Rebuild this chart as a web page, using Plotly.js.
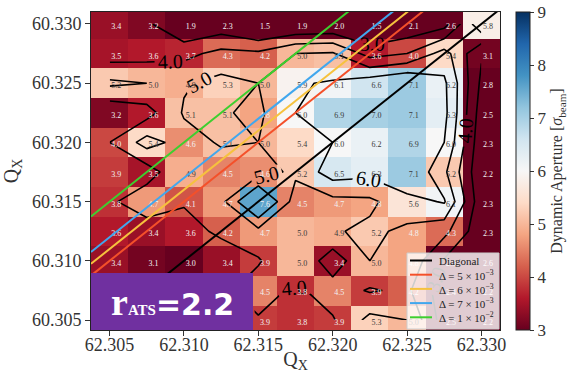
<!DOCTYPE html>
<html>
<head>
<meta charset="utf-8">
<script src="https://cdn.plot.ly/plotly-3.0.1.min.js"></script>
<style>
  html, body { margin: 0; padding: 0; background: #ffffff; }
  #chart { width: 568px; height: 373px; }
</style>
</head>
<body>
<div id="chart"></div>
<script>
// Horizontal tune Qx of each scan column (cell centres)
const qx = [62.305, 62.3075, 62.310, 62.3125, 62.315, 62.3175, 62.320, 62.3225, 62.325, 62.3275, 62.330];
// Vertical tune Qy of each scan row, listed top to bottom
const qy = [60.330, 60.3275, 60.325, 60.3225, 60.320, 60.3175, 60.315, 60.3125, 60.310, 60.3075, 60.305];

// Dynamic aperture in beam sigma, one row per qy value (null = not available)
const row60330  = [3.4, 3.2, 1.9, 2.3, 1.5, 1.9, 2.0, 1.5, 2.1, 2.6, 5.8];
const row603275 = [3.5, 3.6, 3.7, 4.3, 4.2, 5.0, 5.1, 3.6, 4.0, 5.4, 3.1];
const row60325  = [5.2, 5.0, 4.9, 5.3, 5.0, 5.9, 6.1, 6.6, 7.1, 6.2, 2.8];
const row603225 = [3.2, 3.6, 5.1, 5.1, 4.8, 6.0, 6.9, 7.0, 7.1, 6.3, 2.5];
const row60320  = [4.0, 5.4, 4.6, 5.1, 5.0, 5.4, 6.0, 6.2, 6.9, 6.0, 2.3];
const row603175 = [3.9, 3.5, 4.9, 4.5, 4.6, 5.2, 6.5, 6.3, 7.1, 5.2, 2.2];
const row60315  = [3.8, 4.7, 4.1, 4.7, 7.6, 4.5, 4.7, 4.8, 5.6, 6.1, 2.3];
const row603125 = [3.6, 3.4, 3.6, 4.2, 4.7, 5.0, 4.9, 5.2, 4.8, 4.3, 2.3];
const row60310  = [3.4, 3.1, 3.0, 3.4, 3.9, 5.0, 3.4, 5.0, 4.8, 2.9, 2.6];
const row603075 = [null, null, null, null, 4.5, 3.8, 4.5, 3.9, 4.2, 2.4, 2.2];
const row60305  = [null, null, null, null, 3.9, 3.8, 3.9, 5.3, 5.0, 2.5, 2.2];
const da = [row60330, row603275, row60325, row603225, row60320, row603175,
            row60315, row603125, row60310, row603075, row60305];

// Resonance lines Qy = Qx - tuneSplit + delta
const tuneSplit = 2;
const deltas = [0, 5e-3, 6e-3, 7e-3, 1e-2];
const deltaNames = ['Diagonal',
  'Δ = 5 × 10<sup>−3</sup>', 'Δ = 6 × 10<sup>−3</sup>',
  'Δ = 7 × 10<sup>−3</sup>', 'Δ = 1 × 10<sup>−2</sup>'];
const deltaColors = ['#000000', '#f4502a', '#f6c23e', '#41a7ee', '#3dcf2f'];

// Contour levels drawn over the map
const contourLevels = {start: 3, end: 6, size: 1};
const rAts = 2.2;

const xTicks = [62.305, 62.310, 62.315, 62.320, 62.325, 62.330];
const yTicks = [60.305, 60.310, 60.315, 60.320, 60.325, 60.330];

// matplotlib "RdBu"
const rdbu = [
  [0.0, '#67001f'], [0.1, '#b2182b'], [0.2, '#d6604d'], [0.3, '#f4a582'],
  [0.4, '#fddbc7'], [0.5, '#f7f7f7'], [0.6, '#d1e5f0'], [0.7, '#92c5de'],
  [0.8, '#4393c3'], [0.9, '#2166ac'], [1.0, '#053061']
];

const serif = 'Liberation Serif, Times New Roman, serif';
const ink = '#333333';

// Page geometry (px)
const W = 568, H = 373;
const margin = {l: 91, r: 68, t: 12, b: 43};
const plotW = W - margin.l - margin.r;
const plotH = H - margin.t - margin.b;
const px2paperX = px => (px - margin.l) / plotW;
const px2paperY = py => (H - margin.b - py) / plotH;

const stepX = qx[1] - qx[0];
const xRange = [qx[0] - stepX / 2, qx[qx.length - 1] + stepX / 2];
// top and bottom rows are slightly clipped by the frame
const yRange = [60.30416, 60.33101];

// Cell value labels sit a little right of and below each cell centre
const labelNudge = {x: 0.00045, y: -0.00025};
const lx = [], ly = [], lt = [], lc = [];
da.forEach((row, i) => row.forEach((v, j) => {
  if (v === null) return;
  lx.push(qx[j] + labelNudge.x);
  ly.push(qy[i] + labelNudge.y);
  lt.push(v.toFixed(1));
  lc.push((v < 4.85 || v > 7.5) ? '#f2f2f2' : '#3a3a3a');
}));

const traces = [];

traces.push({
  type: 'heatmap', x: qx, y: qy, z: da,
  colorscale: rdbu, zmin: 3, zmax: 9,
  hoverinfo: 'skip', showlegend: false,
  colorbar: {
    x: px2paperX(516), xanchor: 'left', xpad: 0,
    y: 0.5, yanchor: 'middle', ypad: 0,
    len: 1, lenmode: 'fraction',
    thickness: 14, thicknessmode: 'pixels',
    outlinewidth: 1, outlinecolor: '#222222',
    tickvals: [3, 4, 5, 6, 7, 8, 9],
    ticks: 'outside', ticklen: 4, tickcolor: ink,
    tickfont: {family: serif, size: 17, color: ink},
    title: {text: 'Dynamic Aperture [<i>σ</i><sub>beam</sub>]', side: 'right',
            font: {family: serif, size: 16, color: ink}}
  }
});

traces.push({
  type: 'scatter', mode: 'text', x: lx, y: ly, text: lt,
  textposition: 'middle center',
  textfont: {family: serif, size: 8, color: lc},
  hoverinfo: 'skip', showlegend: false, cliponaxis: true
});

traces.push({
  type: 'contour', x: qx, y: qy, z: da,
  autocontour: false, contours: Object.assign({
    coloring: 'none', showlabels: true, labelformat: '.1f',
    labelfont: {family: serif, size: 20, color: '#000000'}
  }, contourLevels),
  line: {color: '#000000', width: 1.6, smoothing: 0},
  showscale: false, showlegend: false, hoverinfo: 'skip'
});

deltas.forEach((d, k) => {
  traces.push({
    type: 'scatter', mode: 'lines',
    x: xRange.slice(),
    y: xRange.map(v => v - tuneSplit + d),
    name: deltaNames[k], showlegend: false,
    line: {color: deltaColors[k], width: 2},
    hoverinfo: 'skip', cliponaxis: true
  });
});

// Key for the resonance lines, boxed in the lower right corner
const keyBox = {left: 407, right: 499, top: 253, bottom: 329};
const keyRow = 14.2, keyFirst = 7.5;
const shapes = [{
  type: 'rect', xref: 'paper', yref: 'paper',
  x0: px2paperX(keyBox.left), x1: px2paperX(keyBox.right),
  y0: px2paperY(keyBox.bottom), y1: px2paperY(keyBox.top),
  fillcolor: 'rgba(255,255,255,0.8)', line: {color: '#cccccc', width: 1}, layer: 'above'
}];
const annotations = [];
deltaNames.forEach((name, k) => {
  const yc = px2paperY(keyBox.top + keyFirst + k * keyRow);
  shapes.push({
    type: 'line', xref: 'paper', yref: 'paper',
    x0: px2paperX(keyBox.left + 3), x1: px2paperX(keyBox.left + 25), y0: yc, y1: yc,
    line: {color: deltaColors[k], width: 2}, layer: 'above'
  });
  annotations.push({
    xref: 'paper', yref: 'paper', x: px2paperX(keyBox.left + 30), y: yc,
    xanchor: 'left', yanchor: 'middle', showarrow: false,
    font: {family: serif, size: 11, color: '#222222'}, text: name
  });
});

// r_ATS badge
shapes.push({
  type: 'rect', xref: 'paper', yref: 'paper',
  x0: 0, x1: px2paperX(253), y0: 0, y1: px2paperY(273),
  fillcolor: '#7030a0', line: {width: 0}, layer: 'above'
});
annotations.push({
  xref: 'paper', yref: 'paper', x: px2paperX(172), y: px2paperY(302),
  xanchor: 'center', yanchor: 'middle', showarrow: false,
  font: {color: '#ffffff', size: 30, family: 'DejaVu Sans, sans-serif'},
  text: '<b><span style="font-family:\'Liberation Serif\';font-size:38px">r</span>' +
        '<span style="font-family:\'Liberation Serif\';font-size:15px">ATS</span>' +
        '=' + rAts.toFixed(1) + '</b>'
});

const axisCommon = {
  showgrid: false, zeroline: false,
  showline: true, mirror: true, linecolor: '#222222', linewidth: 1,
  ticks: 'outside', ticklen: 5, tickcolor: ink,
  tickfont: {family: serif, size: 18, color: ink}
};

const layout = {
  width: W, height: H,
  margin: Object.assign({autoexpand: false}, margin),
  paper_bgcolor: '#ffffff', plot_bgcolor: '#ffffff',
  font: {family: serif, color: ink},
  xaxis: Object.assign({}, axisCommon, {
    range: xRange, tickvals: xTicks, ticktext: xTicks.map(v => v.toFixed(3)),
    ticklabelstandoff: -7,
    title: {text: 'Q<sub>X</sub>', standoff: 12, font: {family: serif, size: 20, color: ink}}
  }),
  yaxis: Object.assign({}, axisCommon, {
    range: yRange, tickvals: yTicks, ticktext: yTicks.map(v => v.toFixed(3)),
    title: {text: 'Q<sub>X</sub>', standoff: 8, font: {family: serif, size: 20, color: ink}}
  }),
  showlegend: false,
  shapes: shapes,
  annotations: annotations
};

Plotly.newPlot('chart', traces, layout, {displayModeBar: false, staticPlot: true});
</script>
</body>
</html>
